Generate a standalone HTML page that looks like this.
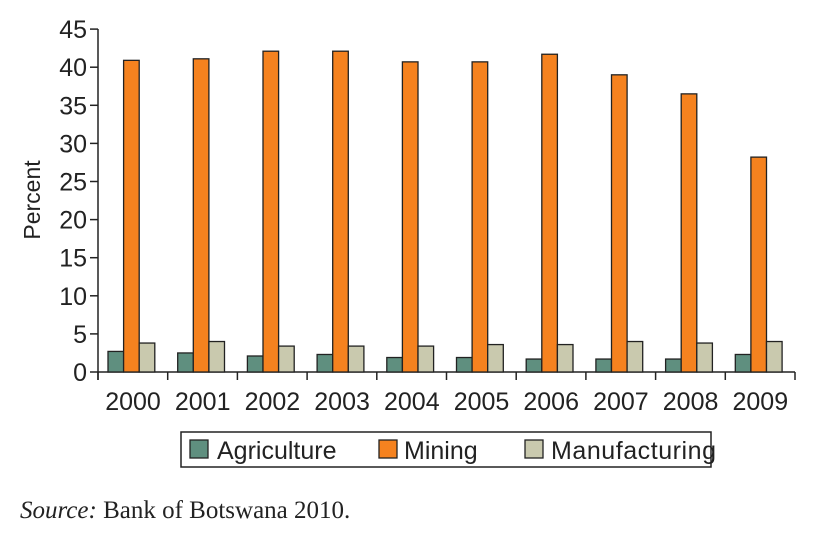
<!DOCTYPE html><html><head><style>body{margin:0;background:#fff;width:816px;height:540px;overflow:hidden}</style></head><body>
<svg width="816" height="540" xmlns="http://www.w3.org/2000/svg" font-family="Liberation Sans, sans-serif">
<g stroke="#222" stroke-width="1.5" fill="none">
<line x1="98" y1="29" x2="98" y2="380"/>
<line x1="98" y1="372" x2="795" y2="372"/>
</g>
<g id="g"></g>
<text x="40" y="200" font-size="23" fill="#222" text-anchor="middle" transform="rotate(-90 40 200)">Percent</text>
<text x="20" y="518" font-family="Liberation Serif, serif" font-size="25" fill="#222"><tspan font-style="italic">Source:</tspan> Bank of Botswana 2010.</text>
<rect x="181" y="432" width="530" height="35" fill="none" stroke="#222" stroke-width="1.5"/>
<rect x="190" y="440" width="18" height="18" fill="#5f8f7f" stroke="#222" stroke-width="1.3"/>
<text x="217" y="459" font-size="25" fill="#222">Agriculture</text>
<rect x="379" y="440" width="18" height="18" fill="#f5821f" stroke="#222" stroke-width="1.3"/>
<text x="404" y="459" font-size="25" fill="#222">Mining</text>
<rect x="525" y="440" width="18" height="18" fill="#c9c9ae" stroke="#222" stroke-width="1.3"/>
<text x="551" y="459" font-size="25" fill="#222" textLength="165">Manufacturing</text>
</svg>
<script>
var ag=[2.7,2.5,2.1,2.3,1.9,1.9,1.7,1.7,1.7,2.3],mi=[40.9,41.1,42.1,42.1,40.7,40.7,41.7,39,36.5,28.2],ma=[3.8,4.0,3.4,3.4,3.4,3.6,3.6,4.0,3.8,4.0];
var s='',k=7.62,b=372;
for(var i=0;i<=9;i++){var x0=98+i*69.7;
[[ag,'#5f8f7f',0],[mi,'#f5821f',1],[ma,'#c9c9ae',2]].forEach(function(a){var h=a[0][i]*k;s+='<rect x="'+(x0+10+a[2]*15.6)+'" y="'+(b-h)+'" width="15.6" height="'+h+'" fill="'+a[1]+'" stroke="#222" stroke-width="1.3"/>';});
s+='<text x="'+(x0+35)+'" y="410" font-size="25" fill="#222" text-anchor="middle">'+(2000+i)+'</text>';}
for(var i=0;i<=10;i++){var x=98+i*69.7;s+='<line x1="'+x+'" y1="372" x2="'+x+'" y2="380" stroke="#222" stroke-width="1.5"/>';}
for(var v=0;v<=45;v+=5){var y=b-v*k;s+='<line x1="90" y1="'+y+'" x2="98" y2="'+y+'" stroke="#222" stroke-width="1.5"/><text x="87" y="'+(y+9)+'" font-size="25" fill="#222" text-anchor="end">'+v+'</text>';}
document.getElementById('g').innerHTML=s;
</script>
</body></html>
